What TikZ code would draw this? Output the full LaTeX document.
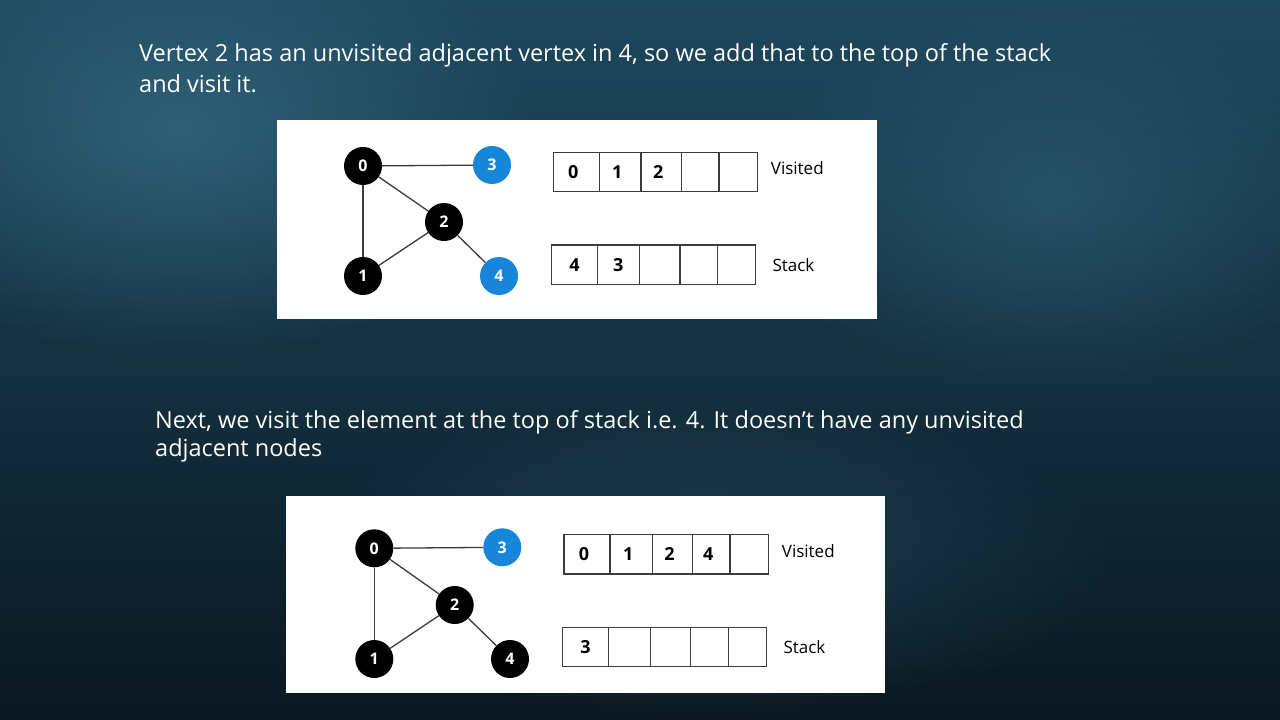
\documentclass[tikz,border=0pt]{standalone}
\usepackage{fontspec}
\setmainfont{Open Sans}
\usetikzlibrary{fadings}
\tikzfading[name=softglow, inner color=transparent!0, outer color=transparent!100]
\definecolor{nodeblue}{RGB}{24,134,216}
\definecolor{bgtop}{RGB}{30,72,94}
\definecolor{bgbot}{RGB}{10,24,33}
\definecolor{bglight}{RGB}{52,104,128}
\definecolor{linegray}{RGB}{60,60,60}
\begin{document}
\begin{tikzpicture}[x=1pt,y=-1pt,
  vtx/.style={circle,minimum size=38pt,inner sep=0pt,text=white,font=\bfseries\fontsize{16}{16}\selectfont},
  blackvtx/.style={vtx,fill=black},
  bluevtx/.style={vtx,fill=nodeblue},
  edge/.style={draw=linegray,line width=1.3pt},
  cell/.style={draw=linegray,line width=1.2pt},
  celltxt/.style={inner sep=0pt,font=\bfseries\fontsize{18}{18}\selectfont},
  lbl/.style={anchor=west,inner sep=0pt,font=\fontsize{17}{17}\selectfont},
  caption/.style={anchor=base west,text=white,inner sep=0pt,font=\fontsize{23.5}{23.5}\selectfont},
  panel/.style={fill=white}]
\useasboundingbox (0,0) rectangle (1280,720);
% background
\shade[top color=bgtop,bottom color=bgbot] (0,0) rectangle (1280,720);
\fill[bglight,path fading=softglow,opacity=0.8] (180,130) ellipse (360pt and 230pt);
\fill[bglight,path fading=softglow,opacity=0.5] (1050,200) ellipse (300pt and 200pt);
\fill[bglight,path fading=softglow,opacity=0.35] (700,560) ellipse (420pt and 160pt);

% captions
\node[caption] (t1a) at (139,61) {Vertex 2 has an unvisited adjacent vertex in 4, so we add that to the top of the stack};
\node[caption] (t1b) at (139,92.7) {and visit it.};
\node[caption] (t2a) at (155,428.3) {Next, we visit the element at the top of stack i.e. 4. It doesn't have any unvisited};
\node[caption] (t2b) at (155,456.7) {adjacent nodes};

% ---------- panel 1 ----------
\fill[panel] (277,120) rectangle (877,319);
\node[blackvtx] (a0) at (363,166) {0};
\node[bluevtx]  (a3) at (492,165) {3};
\node[blackvtx] (a2) at (444,222) {2};
\node[blackvtx] (a1) at (363,276) {1};
\node[bluevtx]  (a4) at (499,276) {4};
\draw[edge] (a0) -- (a3);
\draw[edge] (a0) -- (a1);
\draw[edge] (a0) -- (a2);
\draw[edge] (a1) -- (a2);
\draw[edge] (a2) -- (a4);
\foreach \xa/\xb/\t [count=\i] in {553.3/599.3/0,599.3/641/1,641/681.7/2,681.7/719/,719/757.3/}{
  \draw[cell] (\xa,152.3) rectangle (\xb,191.7);
  \node[celltxt] (av\i) at ({(\xa+\xb)/2-3},172) {\t};
}
\foreach \xa/\xb/\t [count=\i] in {551.7/597.3/4,597.3/639.3/3,639.3/680/,680/717.3/,717.3/755.7/}{
  \draw[cell] (\xa,245) rectangle (\xb,284.3);
  \node[celltxt] (as\i) at ({(\xa+\xb)/2},264.7) {\t};
}
\node[lbl] (alv) at (770.7,168.3) {Visited};
\node[lbl] (als) at (772.3,265) {Stack};

% ---------- panel 2 ----------
\fill[panel] (286,496) rectangle (885,693.3);
\node[blackvtx] (b0) at (374.3,548.3) {0};
\node[bluevtx]  (b3) at (502.3,547.3) {3};
\node[blackvtx] (b2) at (454.7,605) {2};
\node[blackvtx] (b1) at (374.3,659) {1};
\node[blackvtx] (b4) at (510,659) {4};
\draw[edge] (b0) -- (b3);
\draw[edge] (b0) -- (b1);
\draw[edge] (b0) -- (b2);
\draw[edge] (b1) -- (b2);
\draw[edge] (b2) -- (b4);
\foreach \xa/\xb/\t [count=\i] in {564/610/0,610/652.3/1,652.3/692.7/2,692.7/730/4,730/768.3/}{
  \draw[cell] (\xa,534.3) rectangle (\xb,574);
  \node[celltxt] (bv\i) at ({(\xa+\xb)/2-3},554.2) {\t};
}
\foreach \xa/\xb/\t [count=\i] in {562.7/608.3/3,608.3/650.3/,650.3/690.7/,690.7/728.7/,728.7/766.7/}{
  \draw[cell] (\xa,627.3) rectangle (\xb,666.7);
  \node[celltxt] (bs\i) at ({(\xa+\xb)/2},647) {\t};
}
\node[lbl] (blv) at (781.7,551) {Visited};
\node[lbl] (bls) at (783.3,647.3) {Stack};
\end{tikzpicture}
\end{document}
